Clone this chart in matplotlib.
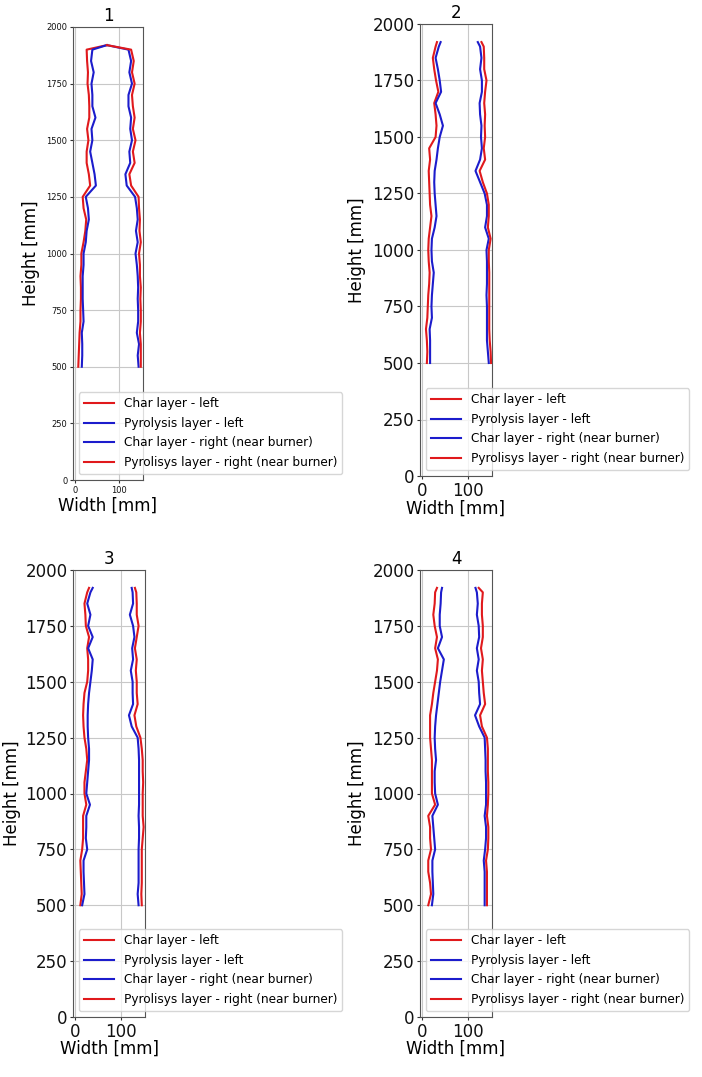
import matplotlib
matplotlib.use('Agg')
import matplotlib.pyplot as plt

heights = [1920, 1900, 1850, 1800, 1750, 1700, 1650, 1600, 1550, 1500,
           1450, 1400, 1350, 1300, 1250, 1200, 1150, 1100, 1050, 1000,
           950, 900, 850, 800, 750, 700, 650, 600, 550, 500]

labels = ["Char layer - left", "Pyrolysis layer - left",
          "Char layer - right (near burner)", "Pyrolisys layer - right (near burner)"]
titles = ["1", "2", "3", "4"]
xticks = [0, 100]
yticks = [0, 250, 500, 750, 1000, 1250, 1500, 1750, 2000]

# Panel 1
p1_char_left = [73, 27, 28, 30, 29, 32, 33, 33, 28, 31, 27, 27, 32, 35, 18,
                20, 26, 24, 20, 15, 15, 13, 14, 14, 13, 13, 11, 10, 9, 8]
p1_pyro_left = [73, 40, 37, 43, 38, 40, 40, 47, 38, 40, 35, 40, 45, 48, 25,
                30, 32, 27, 25, 20, 20, 18, 18, 18, 19, 20, 16, 17, 17, 16]
p1_char_right = [73, 122, 128, 124, 130, 122, 122, 128, 126, 130, 124, 126, 115, 118, 137,
                 141, 143, 139, 143, 138, 141, 143, 144, 143, 144, 144, 141, 146, 143, 145]
p1_pyro_right = [73, 128, 134, 130, 136, 130, 132, 136, 132, 138, 132, 136, 124, 128, 145,
                 146, 148, 147, 150, 146, 148, 148, 150, 149, 150, 150, 148, 150, 150, 150]

# Panel 2
p2_char_left = [32, 29, 23, 26, 30, 35, 26, 29, 31, 29, 15, 17, 14, 15, 16,
                17, 20, 17, 14, 13, 14, 16, 15, 13, 12, 11, 8, 10, 11, 10]
p2_pyro_left = [40, 36, 29, 34, 38, 41, 29, 38, 45, 38, 34, 31, 27, 26, 27,
                29, 31, 27, 21, 20, 21, 25, 23, 21, 20, 21, 16, 17, 17, 17]
p2_char_right = [121, 126, 129, 126, 130, 130, 125, 126, 129, 128, 130, 126, 116, 126, 136,
                 141, 141, 137, 145, 140, 141, 141, 141, 140, 141, 141, 141, 141, 143, 145]
p2_pyro_right = [129, 134, 135, 135, 140, 137, 135, 137, 136, 137, 134, 137, 125, 132, 141,
                 145, 145, 143, 149, 145, 145, 146, 146, 146, 146, 146, 146, 147, 149, 150]

# Panel 3
p3_char_left = [30, 26, 20, 22, 23, 30, 26, 28, 28, 26, 20, 18, 17, 18, 20,
                24, 26, 23, 20, 20, 24, 17, 17, 17, 15, 11, 12, 13, 14, 11]
p3_pyro_left = [38, 33, 26, 33, 28, 38, 28, 38, 36, 33, 30, 28, 27, 27, 28,
                30, 30, 28, 26, 24, 32, 24, 24, 23, 26, 18, 18, 19, 20, 15]
p3_char_right = [123, 125, 126, 119, 126, 129, 124, 126, 121, 125, 125, 126, 117, 123, 136,
                 138, 139, 139, 139, 139, 139, 138, 139, 139, 138, 138, 138, 138, 136, 138]
p3_pyro_right = [130, 133, 134, 134, 138, 134, 130, 134, 132, 134, 134, 136, 129, 133, 142,
                 145, 147, 147, 148, 147, 147, 147, 149, 147, 145, 145, 145, 145, 144, 145]

# Panel 4
p4_char_left = [32, 28, 27, 24, 27, 32, 28, 34, 32, 28, 24, 21, 17, 17, 17,
                19, 21, 21, 21, 21, 28, 13, 17, 17, 19, 13, 13, 17, 19, 13]
p4_pyro_left = [43, 41, 40, 38, 38, 43, 34, 47, 43, 39, 36, 33, 30, 28, 27,
                28, 30, 27, 27, 28, 34, 22, 24, 26, 28, 22, 22, 23, 24, 21]
p4_char_right = [116, 119, 121, 119, 123, 124, 119, 123, 119, 123, 124, 126, 115, 124, 136,
                 137, 138, 138, 139, 139, 139, 136, 139, 139, 137, 134, 136, 136, 136, 136]
p4_pyro_right = [123, 132, 130, 130, 132, 132, 128, 132, 130, 132, 134, 137, 126, 130, 141,
                 143, 143, 143, 144, 144, 143, 141, 144, 144, 143, 139, 141, 141, 141, 141]

panels = [
    (p1_char_left, p1_pyro_left, p1_char_right, p1_pyro_right),
    (p2_char_left, p2_pyro_left, p2_char_right, p2_pyro_right),
    (p3_char_left, p3_pyro_left, p3_char_right, p3_pyro_right),
    (p4_char_left, p4_pyro_left, p4_char_right, p4_pyro_right),
]

RED = '#e0191c'
BLUE = '#1c1ccc'
colors = [RED, BLUE, BLUE, RED]

W, H = 702, 1077
fig = plt.figure(figsize=(W / 100, H / 100), dpi=100)

# axes boxes in pixel coordinates: left, right, top, bottom
boxes = [(73, 143, 27, 480), (420, 492, 24, 476), (73, 145, 570, 1017), (420, 492, 570, 1017)]
xlims = [(-4, 155), (-5, 152), (-5, 152), (-5, 152)]
ylabel_x = [-0.47, -0.75, -0.72, -0.75]
xlabel_y = [-0.037, -0.053, -0.0515, -0.0515]

for i, (series, box) in enumerate(zip(panels, boxes)):
    l, r, t, b = box
    ax = fig.add_axes([l / W, (H - b) / H, (r - l) / W, (b - t) / H])
    for vals, lab, col in zip(series, labels, colors):
        ax.plot(vals, heights, color=col, lw=1.5, label=lab)
    ax.set_ylim(0, 2000)
    ax.set_xlim(*xlims[i])
    ax.set_xticks(xticks)
    ax.set_yticks(yticks)
    ax.grid(True, color='#c8c8c8', lw=0.8)
    for sp in ax.spines.values():
        sp.set_color('#555555')
    tick_fs = 6 if i == 0 else 12
    ax.tick_params(labelsize=tick_fs, colors='#333333', labelcolor='#111111',
                   length=2.5, pad=1.5)
    ax.set_title(titles[i], fontsize=12, pad=4)
    ax.set_xlabel("Width [mm]", fontsize=12)
    ax.set_ylabel("Height [mm]", fontsize=12)
    ax.yaxis.set_label_coords(ylabel_x[i], 0.5)
    ax.xaxis.set_label_coords(0.5, xlabel_y[i])
    ax.legend(loc='lower left', fontsize=8.7, handlelength=2.5, labelspacing=0.55,
              framealpha=0.8)

fig.savefig('out.png', dpi=100)
